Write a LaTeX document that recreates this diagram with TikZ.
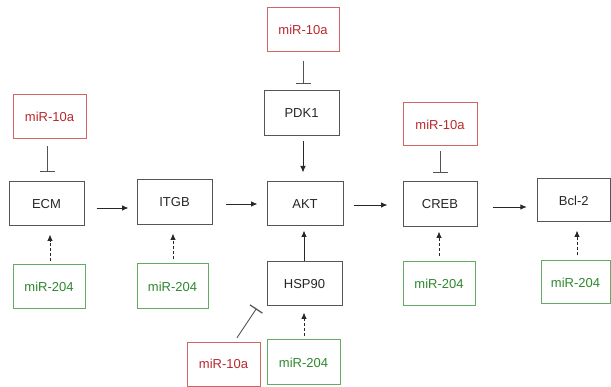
\documentclass[tikz,border=0pt]{standalone}
\usepackage{fontspec}
\setmainfont{Liberation Sans}
\usetikzlibrary{arrows.meta}
\definecolor{redtxt}{RGB}{185,40,45}
\definecolor{redbrd}{RGB}{210,100,100}
\definecolor{grntxt}{RGB}{45,135,45}
\definecolor{grnbrd}{RGB}{100,170,100}
\definecolor{blkbrd}{RGB}{85,85,85}
\definecolor{lnc}{RGB}{40,40,40}
\tikzset{
  box/.style={draw=blkbrd, line width=1pt, minimum width=75pt, minimum height=44pt, inner sep=0pt, text=black!85, font=\fontsize{13}{15}\selectfont},
  redbox/.style={box, draw=redbrd, text=redtxt},
  grnbox/.style={box, draw=grnbrd, text=grntxt},
  arr/.style={draw=lnc, line width=0.9pt, -{Latex[length=6.5pt,width=5.5pt]}},
  darr/.style={arr, dashed, dash pattern=on 3pt off 2pt},
  inh/.style={draw=lnc!80, line width=0.9pt, -{Bar[width=15pt,line width=1.2pt]}}
}
\begin{document}
\begin{tikzpicture}[x=1pt,y=-1pt]
\useasboundingbox (0,0) rectangle (611,387);
% main row
\node[box, minimum width=75pt, minimum height=44pt] (ecm) at (46.5,204) {ECM};
\node[box, minimum width=75pt, minimum height=45pt] (itgb) at (174.5,202.5) {ITGB};
\node[box, minimum width=76pt, minimum height=44pt] (akt) at (305,204) {AKT};
\node[box, minimum width=74pt, minimum height=45pt] (creb) at (440,204.5) {CREB};
\node[box, minimum width=73pt, minimum height=43pt] (bcl) at (573.8,200.5) {Bcl-2};
\node[box, minimum width=75pt, minimum height=45pt] (pdk) at (301.5,113.5) {PDK1};
\node[box, minimum width=75pt, minimum height=44pt] (hsp) at (304.5,284) {HSP90};
% miR-10a
\node[redbox, minimum width=73pt, minimum height=44pt] (r1) at (49.5,117) {miR-10a};
\node[redbox, minimum width=72pt, minimum height=44pt] (r2) at (303,30) {miR-10a};
\node[redbox, minimum width=74pt, minimum height=43pt] (r3) at (440,124.5) {miR-10a};
\node[redbox, minimum width=73pt, minimum height=44pt] (r4) at (223.5,364.3) {miR-10a};
% miR-204
\node[grnbox, minimum width=72pt, minimum height=44pt] (g1) at (49,287) {miR-204};
\node[grnbox, minimum width=71pt, minimum height=45pt] (g2) at (172.5,286.5) {miR-204};
\node[grnbox, minimum width=73pt, minimum height=45pt] (g3) at (303.5,362.5) {miR-204};
\node[grnbox, minimum width=72pt, minimum height=44pt] (g4) at (439,284) {miR-204};
\node[grnbox, minimum width=69pt, minimum height=43pt] (g5) at (575.5,282.5) {miR-204};
% main arrows
\draw[arr, shorten <=12pt, shorten >=8pt] ([yshift=-4pt]ecm.east) -- ([yshift=-4pt]ecm.east -| itgb.west);
\draw[arr, shorten <=13pt, shorten >=9pt] ([yshift=-1.5pt]itgb.east) -- ([yshift=-1.5pt]itgb.east -| akt.west);
\draw[arr, shorten <=10pt, shorten >=15pt] ([yshift=-1pt]akt.east) -- ([yshift=-1pt]akt.east -| creb.west);
\draw[arr, shorten <=15pt, shorten >=10pt] ([yshift=-2.5pt]creb.east) -- ([yshift=-2.5pt]creb.east -| bcl.west);
\draw[arr, shorten <=5pt, shorten >=9pt] ([xshift=1.5pt]pdk.south) -- ([xshift=1.5pt]pdk.south |- akt.north);
\draw[arr, shorten >=4pt] ([xshift=-0.5pt]hsp.north) -- ([xshift=-0.5pt]hsp.north |- akt.south);
% inhibitions
\draw[inh, shorten <=7pt, shorten >=9pt] ([xshift=-2.5pt]r1.south) -- ([xshift=-2.5pt]r1.south |- ecm.north);
\draw[inh, shorten <=9pt, shorten >=6pt] (r2.south) -- (r2.south |- pdk.north);
\draw[inh, shorten <=5pt, shorten >=8pt] (r3.south) -- (r3.south |- creb.north);
\draw[inh] ([shift={(13.5,-4)}]r4.north) -- ([shift={(-10,2)}]hsp.south west);
% dashed activations
\draw[darr, shorten <=3pt, shorten >=8pt] ([xshift=1pt]g1.north) -- ([xshift=1pt]g1.north |- ecm.south);
\draw[darr, shorten <=4pt, shorten >=8pt] ([xshift=0.5pt]g2.north) -- ([xshift=0.5pt]g2.north |- itgb.south);
\draw[darr, shorten <=3pt, shorten >=6pt] ([xshift=0.5pt]g3.north) -- ([xshift=0.5pt]g3.north |- hsp.south);
\draw[darr, shorten <=5pt, shorten >=4pt] (g4.north) -- (g4.north |- creb.south);
\draw[darr, shorten <=5pt, shorten >=8pt] ([xshift=1.5pt]g5.north) -- ([xshift=1.5pt]g5.north |- bcl.south);
\end{tikzpicture}
\end{document}
